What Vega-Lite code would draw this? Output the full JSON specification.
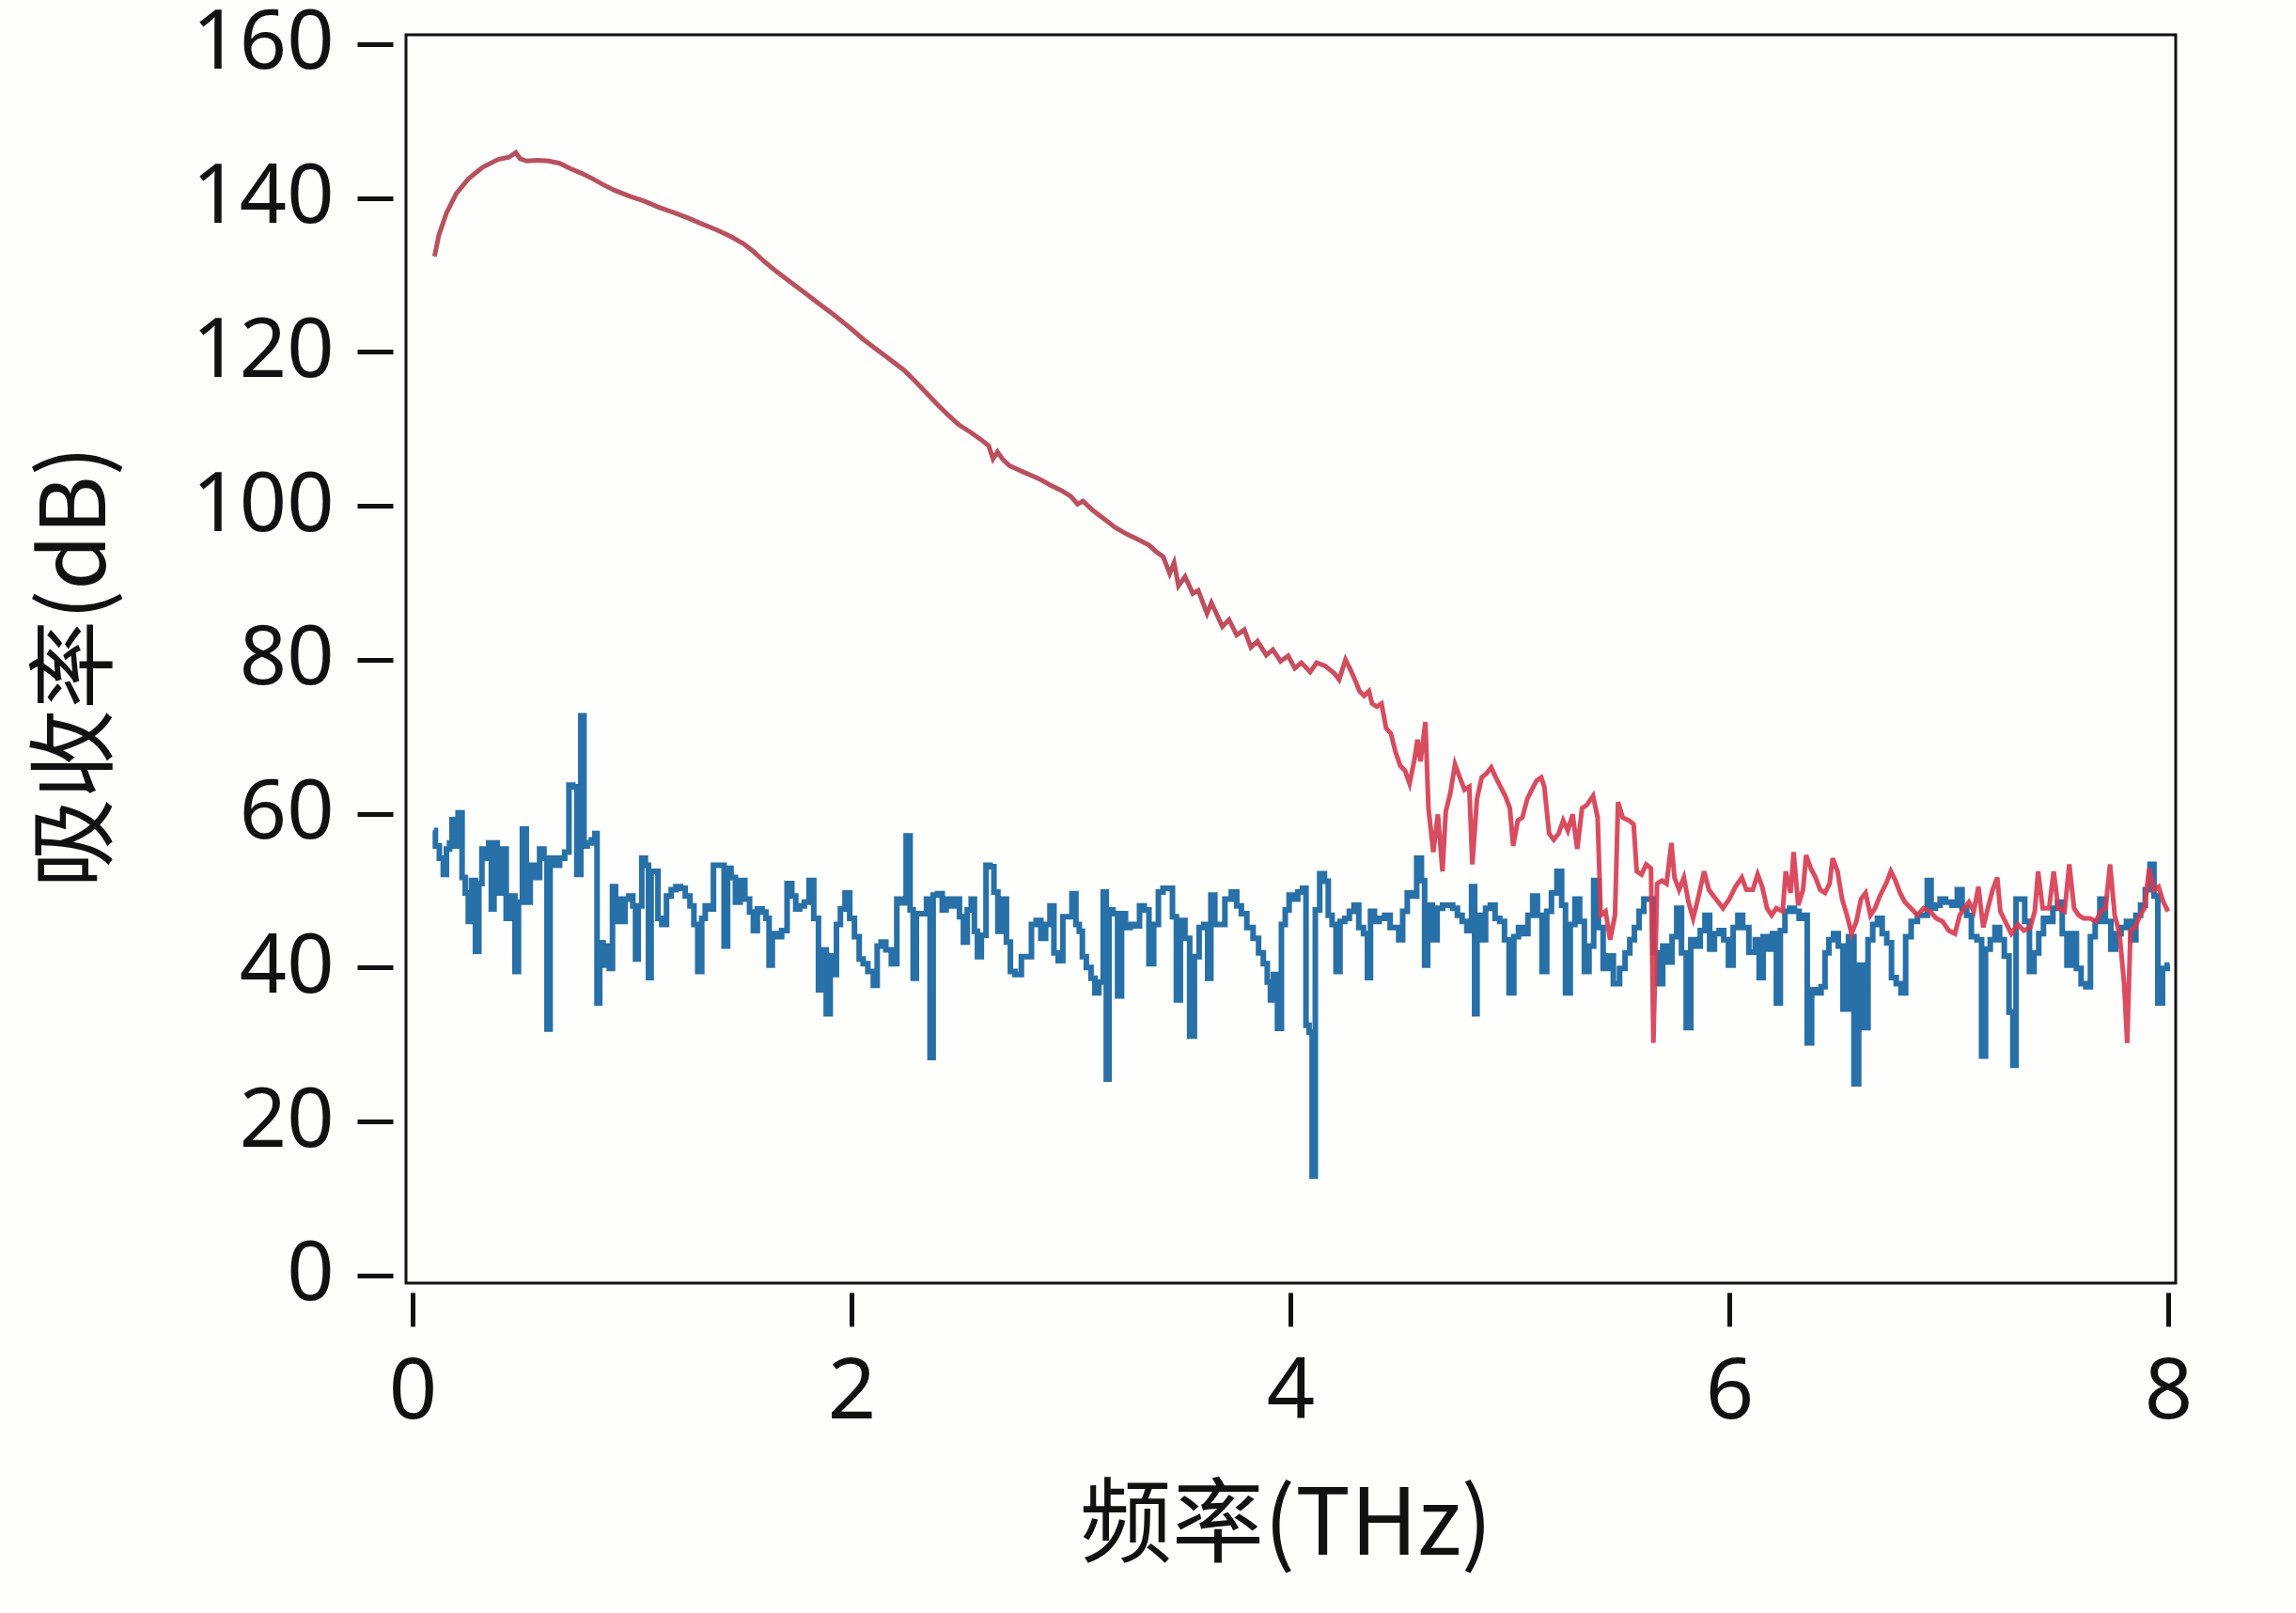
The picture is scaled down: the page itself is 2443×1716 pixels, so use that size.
{
"$schema": "https://vega.github.io/schema/vega-lite/v6.json",
"width": 1883,
"height": 1328,
"autosize": {"type": "none"},
"padding": {"left": 432, "top": 37, "right": 128, "bottom": 351},
"background": "#fefefd",
"config": {"view": {"stroke": "#111111", "strokeWidth": 3}},
"datasets": {
"blue": [
{"f":0.097,"v":57.8},{"f":0.111,"v":55.8},{"f":0.133,"v":54.2},{"f":0.147,"v":52.1},{"f":0.161,"v":55.4},{"f":0.176,"v":56.2},{"f":0.183,"v":59.2},{"f":0.197,"v":55.8},{"f":0.218,"v":60.1},{"f":0.233,"v":51.7},{"f":0.247,"v":49.7},{"f":0.261,"v":46.0},{"f":0.276,"v":51.3},{"f":0.297,"v":42.1},{"f":0.307,"v":50.9},{"f":0.325,"v":55.4},{"f":0.340,"v":54.2},{"f":0.354,"v":56.2},{"f":0.364,"v":47.6},{"f":0.378,"v":56.2},{"f":0.393,"v":49.7},{"f":0.418,"v":55.4},{"f":0.435,"v":46.4},{"f":0.458,"v":49.3},{"f":0.475,"v":39.5},{"f":0.490,"v":48.5},{"f":0.511,"v":58.0},{"f":0.525,"v":48.5},{"f":0.547,"v":53.3},{"f":0.568,"v":51.7},{"f":0.590,"v":55.4},{"f":0.607,"v":54.2},{"f":0.618,"v":32.0},{"f":0.635,"v":54.2},{"f":0.658,"v":53.3},{"f":0.682,"v":54.2},{"f":0.704,"v":55.0},{"f":0.721,"v":63.7},{"f":0.739,"v":63.5},{"f":0.758,"v":52.1},{"f":0.775,"v":72.7},{"f":0.787,"v":55.8},{"f":0.804,"v":56.2},{"f":0.825,"v":56.6},{"f":0.837,"v":57.4},{"f":0.844,"v":35.4},{"f":0.861,"v":43.2},{"f":0.875,"v":40.3},{"f":0.889,"v":42.8},{"f":0.904,"v":39.9},{"f":0.918,"v":50.5},{"f":0.932,"v":46.0},{"f":0.947,"v":48.9},{"f":0.961,"v":46.0},{"f":0.975,"v":48.9},{"f":0.996,"v":49.3},{"f":1.011,"v":48.0},{"f":1.021,"v":41.1},{"f":1.035,"v":48.0},{"f":1.054,"v":54.2},{"f":1.068,"v":53.3},{"f":1.082,"v":38.7},{"f":1.092,"v":52.5},{"f":1.111,"v":52.5},{"f":1.125,"v":46.4},{"f":1.146,"v":45.6},{"f":1.168,"v":49.3},{"f":1.189,"v":50.1},{"f":1.211,"v":50.5},{"f":1.232,"v":50.3},{"f":1.253,"v":49.3},{"f":1.275,"v":48.0},{"f":1.289,"v":45.6},{"f":1.310,"v":39.5},{"f":1.325,"v":46.4},{"f":1.342,"v":48.0},{"f":1.360,"v":47.6},{"f":1.382,"v":53.3},{"f":1.410,"v":53.3},{"f":1.429,"v":42.8},{"f":1.442,"v":52.9},{"f":1.460,"v":51.7},{"f":1.482,"v":48.5},{"f":1.503,"v":51.3},{"f":1.525,"v":48.9},{"f":1.546,"v":47.2},{"f":1.560,"v":44.8},{"f":1.582,"v":47.6},{"f":1.603,"v":47.2},{"f":1.617,"v":46.4},{"f":1.632,"v":40.3},{"f":1.646,"v":44.4},{"f":1.667,"v":44.0},{"f":1.696,"v":44.8},{"f":1.717,"v":50.9},{"f":1.739,"v":49.3},{"f":1.753,"v":47.6},{"f":1.774,"v":48.0},{"f":1.796,"v":48.5},{"f":1.817,"v":51.3},{"f":1.839,"v":46.4},{"f":1.860,"v":37.1},{"f":1.874,"v":42.3},{"f":1.896,"v":34.0},{"f":1.910,"v":41.5},{"f":1.924,"v":39.1},{"f":1.939,"v":45.6},{"f":1.960,"v":47.6},{"f":1.981,"v":49.7},{"f":2.003,"v":46.4},{"f":2.024,"v":44.0},{"f":2.046,"v":41.1},
{"f":2.060,"v":40.5},{"f":2.089,"v":39.5},{"f":2.110,"v":37.7},{"f":2.124,"v":42.8},{"f":2.146,"v":43.3},{"f":2.167,"v":42.3},{"f":2.196,"v":40.5},{"f":2.217,"v":48.9},{"f":2.238,"v":48.4},{"f":2.260,"v":57.1},{"f":2.274,"v":47.5},{"f":2.288,"v":38.6},{"f":2.303,"v":47.0},{"f":2.331,"v":47.0},{"f":2.353,"v":48.9},{"f":2.363,"v":28.3},{"f":2.381,"v":49.4},{"f":2.403,"v":49.6},{"f":2.424,"v":47.5},{"f":2.438,"v":48.9},{"f":2.460,"v":48.0},{"f":2.481,"v":48.9},{"f":2.503,"v":46.6},{"f":2.517,"v":43.3},{"f":2.538,"v":47.5},{"f":2.553,"v":48.9},{"f":2.567,"v":44.7},{"f":2.581,"v":41.4},{"f":2.602,"v":44.2},{"f":2.624,"v":53.3},{"f":2.638,"v":53.1},{"f":2.660,"v":49.8},{"f":2.674,"v":44.7},{"f":2.695,"v":48.9},{"f":2.717,"v":43.3},{"f":2.731,"v":39.5},{"f":2.760,"v":39.1},{"f":2.788,"v":41.4},{"f":2.809,"v":41.4},{"f":2.831,"v":45.6},{"f":2.852,"v":46.1},{"f":2.874,"v":43.8},{"f":2.895,"v":45.6},{"f":2.914,"v":48.0},{"f":2.931,"v":41.9},{"f":2.952,"v":40.9},{"f":2.974,"v":46.6},{"f":2.995,"v":46.6},{"f":3.014,"v":49.6},{"f":3.031,"v":45.6},{"f":3.045,"v":44.7},{"f":3.059,"v":41.4},{"f":3.081,"v":40.0},{"f":3.102,"v":38.6},{"f":3.116,"v":36.7},{"f":3.138,"v":38.1},{"f":3.156,"v":49.8},{"f":3.166,"v":25.5},{"f":3.181,"v":47.5},{"f":3.202,"v":47.0},{"f":3.223,"v":36.3},{"f":3.238,"v":47.0},{"f":3.259,"v":45.2},{"f":3.281,"v":45.6},{"f":3.302,"v":45.4},{"f":3.323,"v":48.0},{"f":3.345,"v":47.5},{"f":3.366,"v":40.5},{"f":3.388,"v":45.6},{"f":3.409,"v":49.8},{"f":3.430,"v":50.3},{"f":3.452,"v":50.3},{"f":3.473,"v":46.6},{"f":3.488,"v":35.8},{"f":3.509,"v":46.1},{"f":3.530,"v":43.8},{"f":3.552,"v":31.1},{"f":3.573,"v":41.4},{"f":3.595,"v":45.2},{"f":3.616,"v":45.6},{"f":3.630,"v":38.6},{"f":3.645,"v":49.4},{"f":3.666,"v":45.6},{"f":3.687,"v":45.6},{"f":3.716,"v":48.9},{"f":3.745,"v":49.8},{"f":3.766,"v":48.0},{"f":3.787,"v":47.0},{"f":3.816,"v":45.2},{"f":3.844,"v":43.8},{"f":3.866,"v":41.9},{"f":3.887,"v":40.5},{"f":3.902,"v":38.1},{"f":3.916,"v":35.8},{"f":3.930,"v":39.1},{"f":3.952,"v":32.1},{"f":3.966,"v":45.6},{"f":3.987,"v":47.5},{"f":4.001,"v":49.4},{"f":4.023,"v":48.9},{"f":4.044,"v":49.8},{"f":4.066,"v":50.3},{"f":4.076,"v":32.5},{"f":4.094,"v":31.6},{"f":4.104,"v":12.9},{"f":4.123,"v":47.5},{"f":4.144,"v":52.2},{"f":4.166,"v":51.2},
{"f":4.179,"v":46.8},{"f":4.201,"v":45.6},{"f":4.215,"v":39.5},{"f":4.237,"v":46.0},{"f":4.258,"v":46.4},{"f":4.279,"v":47.3},{"f":4.301,"v":48.1},{"f":4.322,"v":45.2},{"f":4.344,"v":44.4},{"f":4.358,"v":38.7},{"f":4.372,"v":47.3},{"f":4.394,"v":46.0},{"f":4.415,"v":46.4},{"f":4.444,"v":46.8},{"f":4.465,"v":45.2},{"f":4.486,"v":45.2},{"f":4.501,"v":43.6},{"f":4.522,"v":47.3},{"f":4.543,"v":49.7},{"f":4.565,"v":49.3},{"f":4.586,"v":54.2},{"f":4.608,"v":51.3},{"f":4.615,"v":40.3},{"f":4.636,"v":48.1},{"f":4.658,"v":43.6},{"f":4.679,"v":47.7},{"f":4.708,"v":48.1},{"f":4.729,"v":48.1},{"f":4.750,"v":47.7},{"f":4.772,"v":46.8},{"f":4.793,"v":46.0},{"f":4.815,"v":44.8},{"f":4.836,"v":50.5},{"f":4.843,"v":34.0},{"f":4.858,"v":46.8},{"f":4.879,"v":43.6},{"f":4.900,"v":47.7},{"f":4.922,"v":48.1},{"f":4.943,"v":46.4},{"f":4.965,"v":46.0},{"f":4.986,"v":43.6},{"f":5.007,"v":36.7},{"f":5.029,"v":44.0},{"f":5.050,"v":45.2},{"f":5.072,"v":44.4},{"f":5.093,"v":46.8},{"f":5.115,"v":49.3},{"f":5.136,"v":46.8},{"f":5.157,"v":39.5},{"f":5.179,"v":47.3},{"f":5.200,"v":49.7},{"f":5.229,"v":52.5},{"f":5.243,"v":48.1},{"f":5.264,"v":36.7},{"f":5.286,"v":45.6},{"f":5.307,"v":48.9},{"f":5.329,"v":46.0},{"f":5.350,"v":39.5},{"f":5.371,"v":42.8},{"f":5.393,"v":51.3},{"f":5.414,"v":45.2},{"f":5.436,"v":39.9},{"f":5.457,"v":41.5},{"f":5.486,"v":37.9},{"f":5.514,"v":39.9},{"f":5.536,"v":41.9},{"f":5.557,"v":43.6},{"f":5.578,"v":45.2},{"f":5.600,"v":47.3},{"f":5.621,"v":48.9},{"f":5.643,"v":48.9},{"f":5.664,"v":41.9},{"f":5.686,"v":37.9},{"f":5.707,"v":42.8},{"f":5.728,"v":40.7},{"f":5.750,"v":44.0},{"f":5.771,"v":47.7},{"f":5.793,"v":41.9},{"f":5.814,"v":32.2},{"f":5.835,"v":43.6},{"f":5.857,"v":42.8},{"f":5.878,"v":44.8},{"f":5.900,"v":46.8},{"f":5.921,"v":42.4},{"f":5.943,"v":44.4},{"f":5.964,"v":44.8},{"f":5.985,"v":43.6},{"f":6.007,"v":40.3},{"f":6.028,"v":45.2},{"f":6.050,"v":46.8},{"f":6.071,"v":45.2},
{"f":6.107,"v":42.0},{"f":6.129,"v":43.6},{"f":6.143,"v":38.7},{"f":6.165,"v":44.0},{"f":6.186,"v":42.4},{"f":6.207,"v":44.4},{"f":6.222,"v":35.4},{"f":6.243,"v":44.8},{"f":6.264,"v":47.3},{"f":6.286,"v":47.7},{"f":6.307,"v":47.3},{"f":6.329,"v":46.4},{"f":6.346,"v":46.8},{"f":6.364,"v":30.2},{"f":6.386,"v":37.1},{"f":6.407,"v":36.7},{"f":6.429,"v":37.5},{"f":6.443,"v":41.9},{"f":6.464,"v":43.6},{"f":6.486,"v":44.4},{"f":6.507,"v":42.8},{"f":6.529,"v":34.6},{"f":6.557,"v":44.0},{"f":6.579,"v":24.9},{"f":6.600,"v":40.3},{"f":6.621,"v":32.2},{"f":6.643,"v":43.6},{"f":6.664,"v":45.6},{"f":6.686,"v":46.4},{"f":6.707,"v":44.4},{"f":6.728,"v":43.2},{"f":6.750,"v":38.7},{"f":6.771,"v":37.9},{"f":6.793,"v":36.7},{"f":6.814,"v":44.0},{"f":6.843,"v":46.0},{"f":6.871,"v":46.8},{"f":6.893,"v":46.8},{"f":6.911,"v":51.3},{"f":6.928,"v":47.7},{"f":6.950,"v":48.1},{"f":6.971,"v":48.9},{"f":7.000,"v":48.5},{"f":7.028,"v":48.1},{"f":7.050,"v":50.1},{"f":7.071,"v":47.7},{"f":7.092,"v":46.8},{"f":7.114,"v":44.0},{"f":7.142,"v":43.6},{"f":7.157,"v":28.5},{"f":7.178,"v":42.4},{"f":7.200,"v":43.6},{"f":7.221,"v":45.2},{"f":7.242,"v":43.6},{"f":7.264,"v":41.5},{"f":7.285,"v":34.2},{"f":7.299,"v":27.3},{"f":7.314,"v":48.9},{"f":7.335,"v":48.9},{"f":7.357,"v":46.0},{"f":7.378,"v":39.5},{"f":7.399,"v":41.9},{"f":7.421,"v":44.4},{"f":7.442,"v":46.4},{"f":7.464,"v":46.0},{"f":7.485,"v":47.7},{"f":7.506,"v":48.5},{"f":7.528,"v":44.4},{"f":7.549,"v":40.3},{"f":7.571,"v":44.4},{"f":7.592,"v":39.9},{"f":7.614,"v":37.9},{"f":7.635,"v":37.5},{"f":7.656,"v":44.0},{"f":7.678,"v":46.0},{"f":7.699,"v":48.9},{"f":7.728,"v":46.0},{"f":7.749,"v":42.4},{"f":7.771,"v":44.4},{"f":7.799,"v":45.2},{"f":7.820,"v":46.0},{"f":7.842,"v":43.6},{"f":7.863,"v":46.8},{"f":7.885,"v":48.1},{"f":7.906,"v":50.1},{"f":7.928,"v":53.4},{"f":7.942,"v":49.3},{"f":7.963,"v":35.4},{"f":7.985,"v":39.9},{"f":8.006,"v":40.3}
],
"red": [
{"f":0.100,"v":132.4},{"f":0.120,"v":135.2},{"f":0.155,"v":138.1},{"f":0.200,"v":140.6},{"f":0.255,"v":142.5},{"f":0.320,"v":144.0},{"f":0.390,"v":145.0},{"f":0.440,"v":145.3},{"f":0.470,"v":145.9},{"f":0.490,"v":145.1},{"f":0.520,"v":144.8},{"f":0.570,"v":144.9},{"f":0.620,"v":144.8},{"f":0.670,"v":144.5},{"f":0.720,"v":143.8},{"f":0.770,"v":143.2},{"f":0.820,"v":142.5},{"f":0.870,"v":141.7},{"f":0.920,"v":141.0},{"f":0.990,"v":140.2},{"f":1.055,"v":139.6},{"f":1.120,"v":138.8},{"f":1.190,"v":138.1},{"f":1.255,"v":137.4},{"f":1.320,"v":136.6},{"f":1.390,"v":135.8},{"f":1.455,"v":134.9},{"f":1.510,"v":134.0},{"f":1.555,"v":133.0},{"f":1.600,"v":131.8},{"f":1.655,"v":130.5},{"f":1.720,"v":129.1},{"f":1.790,"v":127.6},{"f":1.850,"v":126.3},{"f":1.920,"v":124.8},{"f":1.990,"v":123.2},{"f":2.055,"v":121.6},{"f":2.120,"v":120.2},{"f":2.190,"v":118.7},{"f":2.240,"v":117.6},{"f":2.290,"v":116.2},{"f":2.340,"v":114.7},{"f":2.390,"v":113.2},{"f":2.440,"v":111.8},{"f":2.490,"v":110.5},{"f":2.540,"v":109.6},{"f":2.590,"v":108.6},{"f":2.625,"v":107.8},{"f":2.645,"v":106.1},{"f":2.665,"v":107.0},{"f":2.690,"v":106.0},{"f":2.720,"v":105.2},{"f":2.790,"v":104.3},{"f":2.855,"v":103.5},{"f":2.905,"v":102.7},{"f":2.955,"v":102.0},{"f":3.000,"v":101.2},{"f":3.030,"v":100.2},{"f":3.055,"v":100.6},{"f":3.100,"v":99.4},{"f":3.155,"v":98.2},{"f":3.200,"v":97.2},{"f":3.255,"v":96.3},{"f":3.300,"v":95.7},{"f":3.355,"v":94.9},{"f":3.390,"v":94.0},{"f":3.420,"v":93.4},{"f":3.450,"v":91.2},{"f":3.470,"v":92.6},{"f":3.490,"v":89.6},{"f":3.520,"v":90.8},{"f":3.555,"v":88.6},{"f":3.580,"v":89.0},{"f":3.620,"v":86.0},{"f":3.640,"v":87.4},{"f":3.690,"v":84.3},{"f":3.720,"v":85.2},{"f":3.755,"v":83.2},{"f":3.790,"v":83.9},{"f":3.820,"v":81.6},{"f":3.850,"v":82.4},{"f":3.890,"v":80.6},{"f":3.920,"v":81.3},{"f":3.955,"v":79.8},{"f":3.990,"v":80.5},{"f":4.020,"v":78.9},{"f":4.050,"v":79.6},{"f":4.090,"v":78.4},{"f":4.120,"v":79.6},
{"f":4.158,"v":79.2},{"f":4.201,"v":78.2},{"f":4.222,"v":77.4},{"f":4.251,"v":80.0},{"f":4.272,"v":78.8},{"f":4.294,"v":77.4},{"f":4.315,"v":75.9},{"f":4.336,"v":75.3},{"f":4.358,"v":75.9},{"f":4.372,"v":74.3},{"f":4.394,"v":73.9},{"f":4.415,"v":74.3},{"f":4.436,"v":71.1},{"f":4.458,"v":70.4},{"f":4.479,"v":68.0},{"f":4.501,"v":66.2},{"f":4.522,"v":65.6},{"f":4.543,"v":63.9},{"f":4.565,"v":67.0},{"f":4.579,"v":69.6},{"f":4.593,"v":66.8},{"f":4.615,"v":71.9},{"f":4.629,"v":60.7},{"f":4.651,"v":55.0},{"f":4.672,"v":59.9},{"f":4.693,"v":52.5},{"f":4.708,"v":60.3},{"f":4.729,"v":62.7},{"f":4.750,"v":66.4},{"f":4.772,"v":64.7},{"f":4.793,"v":63.1},{"f":4.815,"v":63.5},{"f":4.829,"v":53.4},{"f":4.850,"v":61.9},{"f":4.872,"v":64.7},{"f":4.893,"v":65.2},{"f":4.915,"v":66.0},{"f":4.936,"v":64.7},{"f":4.957,"v":63.5},{"f":4.979,"v":62.3},{"f":5.000,"v":60.7},{"f":5.015,"v":55.8},{"f":5.036,"v":59.1},{"f":5.057,"v":59.5},{"f":5.079,"v":61.9},{"f":5.100,"v":63.1},{"f":5.122,"v":64.3},{"f":5.143,"v":64.7},{"f":5.157,"v":63.5},{"f":5.179,"v":57.4},{"f":5.200,"v":56.6},{"f":5.222,"v":57.4},{"f":5.243,"v":59.1},{"f":5.264,"v":57.8},{"f":5.286,"v":59.9},{"f":5.307,"v":55.4},{"f":5.329,"v":60.7},{"f":5.350,"v":61.1},{"f":5.379,"v":62.3},{"f":5.400,"v":59.5},{"f":5.414,"v":46.8},{"f":5.436,"v":47.3},{"f":5.457,"v":43.6},{"f":5.479,"v":46.8},{"f":5.493,"v":61.5},{"f":5.514,"v":59.5},{"f":5.543,"v":59.1},{"f":5.564,"v":58.6},{"f":5.578,"v":52.5},{"f":5.600,"v":52.1},{"f":5.621,"v":53.4},{"f":5.643,"v":52.9},{"f":5.654,"v":30.2},{"f":5.671,"v":50.9},{"f":5.693,"v":51.3},{"f":5.714,"v":50.9},{"f":5.736,"v":56.2},{"f":5.750,"v":51.7},{"f":5.771,"v":50.1},{"f":5.793,"v":51.7},{"f":5.814,"v":48.5},{"f":5.835,"v":46.4},{"f":5.857,"v":48.9},{"f":5.885,"v":52.5},{"f":5.907,"v":50.1},{"f":5.928,"v":49.3},{"f":5.950,"v":48.5},{"f":5.971,"v":47.7},{"f":6.000,"v":48.9},{"f":6.028,"v":50.5},{"f":6.057,"v":51.7},{"f":6.078,"v":50.1},
{"f":6.107,"v":50.1},{"f":6.129,"v":52.1},{"f":6.150,"v":50.5},{"f":6.172,"v":47.7},{"f":6.193,"v":46.8},{"f":6.214,"v":47.7},{"f":6.243,"v":47.3},{"f":6.257,"v":52.5},{"f":6.279,"v":49.7},{"f":6.293,"v":55.0},{"f":6.314,"v":48.1},{"f":6.336,"v":50.1},{"f":6.350,"v":54.6},{"f":6.371,"v":52.9},{"f":6.393,"v":51.7},{"f":6.414,"v":50.1},{"f":6.436,"v":49.7},{"f":6.457,"v":50.9},{"f":6.471,"v":54.2},{"f":6.493,"v":52.5},{"f":6.514,"v":48.9},{"f":6.536,"v":46.8},{"f":6.557,"v":44.4},{"f":6.579,"v":46.0},{"f":6.600,"v":48.9},{"f":6.621,"v":49.7},{"f":6.643,"v":46.8},{"f":6.664,"v":47.7},{"f":6.686,"v":49.3},{"f":6.714,"v":50.9},{"f":6.736,"v":52.5},{"f":6.757,"v":51.3},{"f":6.778,"v":49.7},{"f":6.800,"v":48.5},{"f":6.828,"v":47.7},{"f":6.857,"v":46.8},{"f":6.885,"v":47.7},{"f":6.914,"v":47.3},{"f":6.943,"v":46.4},{"f":6.971,"v":46.0},{"f":7.000,"v":44.8},{"f":7.028,"v":44.4},{"f":7.050,"v":46.8},{"f":7.071,"v":47.7},{"f":7.092,"v":48.5},{"f":7.114,"v":47.3},{"f":7.135,"v":50.5},{"f":7.157,"v":45.2},{"f":7.178,"v":47.7},{"f":7.200,"v":50.1},{"f":7.221,"v":51.7},{"f":7.235,"v":47.3},{"f":7.257,"v":46.0},{"f":7.285,"v":44.4},{"f":7.314,"v":45.6},{"f":7.342,"v":44.8},{"f":7.371,"v":45.2},{"f":7.392,"v":47.3},{"f":7.407,"v":52.5},{"f":7.428,"v":47.7},{"f":7.457,"v":47.7},{"f":7.478,"v":52.5},{"f":7.499,"v":47.7},{"f":7.528,"v":47.3},{"f":7.549,"v":53.4},{"f":7.571,"v":47.7},{"f":7.592,"v":46.8},{"f":7.614,"v":46.4},{"f":7.642,"v":46.4},{"f":7.671,"v":46.0},{"f":7.692,"v":47.3},{"f":7.714,"v":47.7},{"f":7.735,"v":53.4},{"f":7.756,"v":46.8},{"f":7.778,"v":44.4},{"f":7.799,"v":37.9},{"f":7.813,"v":30.2},{"f":7.828,"v":44.8},{"f":7.849,"v":45.2},{"f":7.871,"v":46.8},{"f":7.892,"v":47.7},{"f":7.913,"v":52.9},{"f":7.935,"v":50.1},{"f":7.956,"v":50.5},{"f":7.978,"v":48.5},{"f":7.999,"v":47.3}
]
},
"encoding": {
"x": {"field": "f", "type": "quantitative",
 "scale": {"domain": [-0.03, 8.034], "nice": false, "zero": false},
 "axis": {"values": [0, 2, 4, 6, 8], "title": "频率(THz)", "domain": false, "grid": false, "offset": 10, "tickSize": 36, "tickWidth": 5, "tickColor": "#111111", "labelFont": "Noto Sans", "labelFontSize": 90, "labelColor": "#111111", "labelPadding": 26, "labelFlush": false, "titleFont": "Noto Sans CJK SC", "titleFontSize": 98, "titleFontWeight": "normal", "titleColor": "#111111", "titleX": 936, "titleY": 249, "titleBaseline": "middle"}},
"y": {"field": "v", "type": "quantitative",
 "scale": {"domain": [-1.0, 161.2], "nice": false, "zero": false},
 "axis": {"values": [0, 20, 40, 60, 80, 100, 120, 140, 160], "title": "吸收率(dB)", "domain": false, "grid": false, "offset": 14, "tickSize": 38, "tickWidth": 5, "tickColor": "#111111", "labelFont": "Noto Sans", "labelFontSize": 88, "labelColor": "#111111", "labelPadding": 25, "labelFlush": false, "titleFont": "Noto Sans CJK SC", "titleFontSize": 95, "titleFontWeight": "normal", "titleColor": "#111111", "titleX": -336, "titleY": 672, "titleBaseline": "middle"}}
},
"layer": [
{"data": {"name": "blue"}, "mark": {"type": "line", "interpolate": "step", "color": "#2870a8", "strokeWidth": 6}},
{"data": {"name": "red"}, "mark": {"type": "line", "strokeWidth": 5, "opacity": 0.9, "color": {"gradient": "linear", "x1": 0, "y1": 0, "x2": 1, "y2": 0, "stops": [{"offset": 0, "color": "#ad3f4e"}, {"offset": 0.45, "color": "#b53c4c"}, {"offset": 0.56, "color": "#d3394e"}, {"offset": 1, "color": "#d8394f"}]}}}
]
}
